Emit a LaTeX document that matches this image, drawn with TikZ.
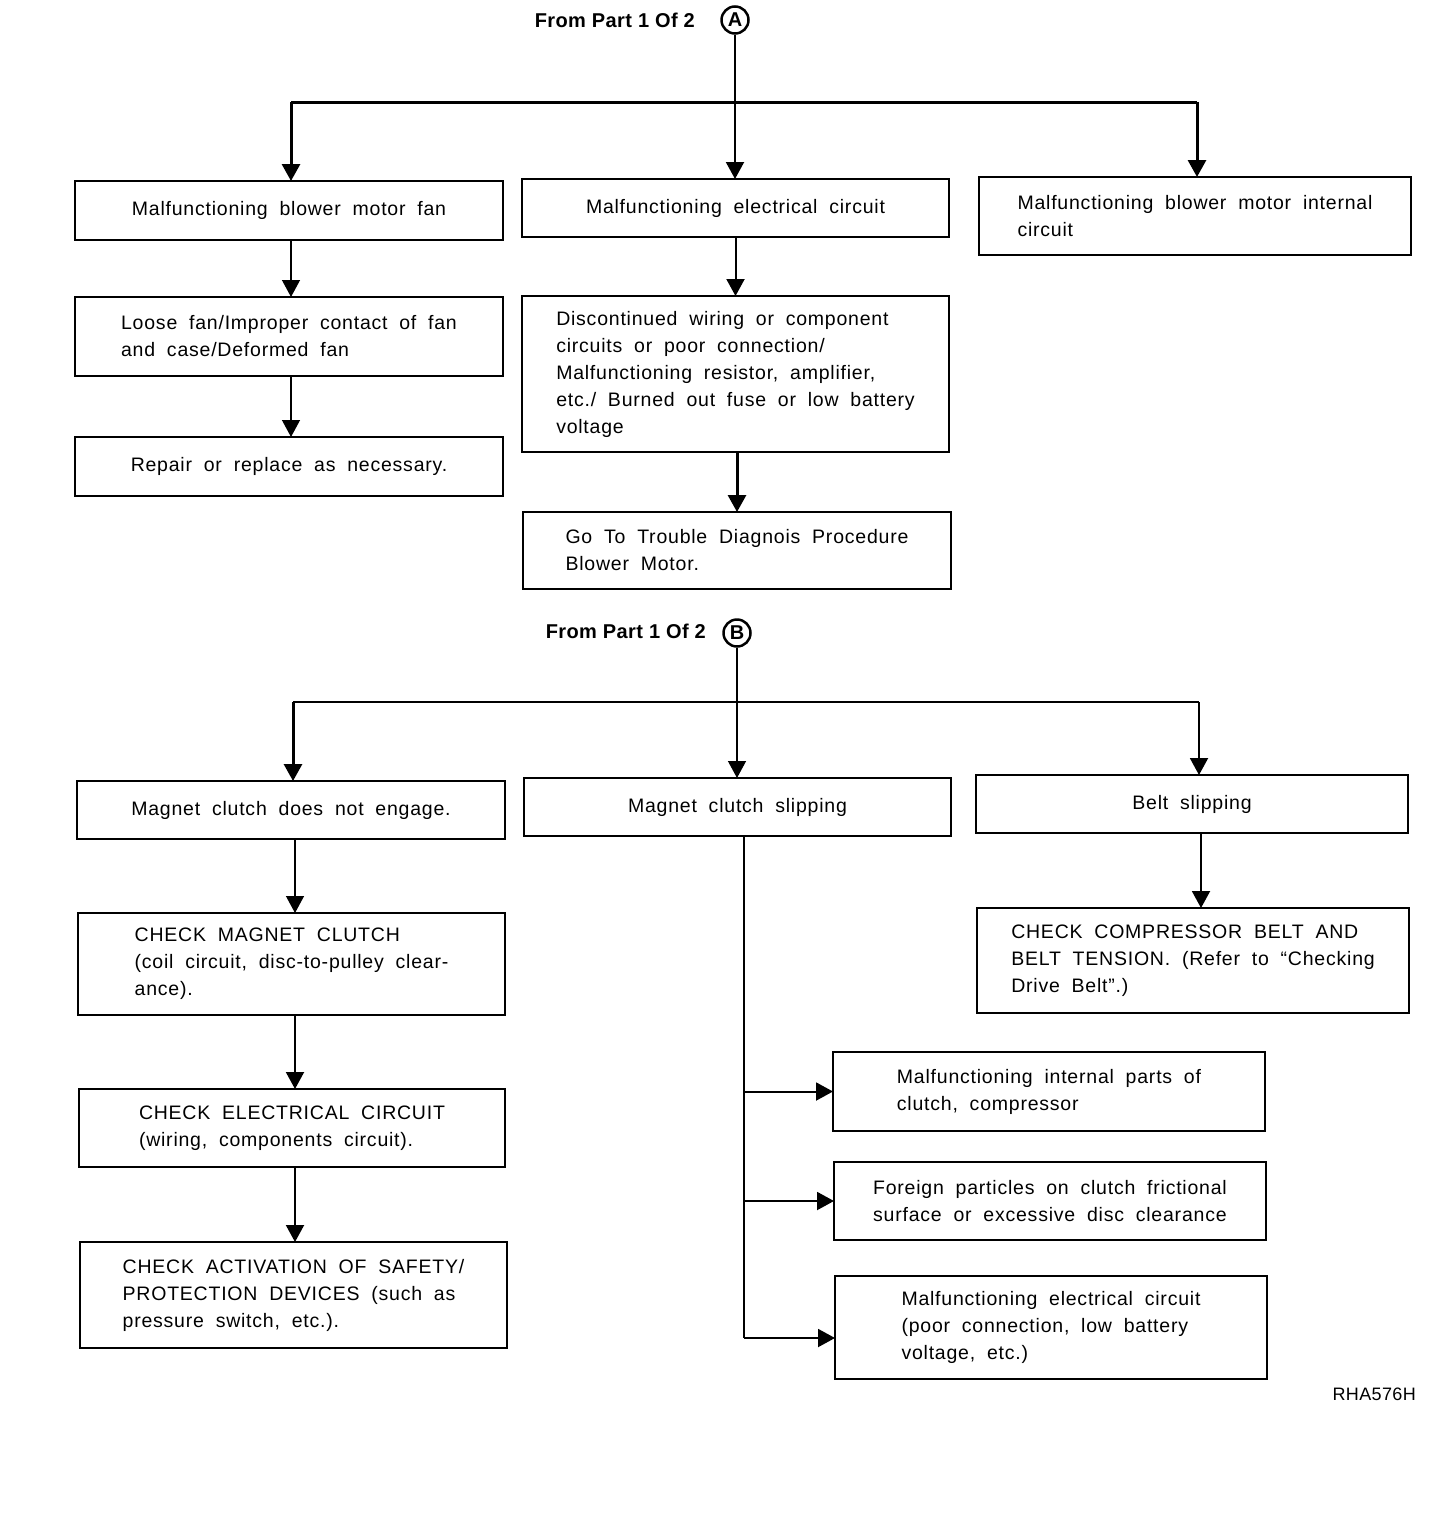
\documentclass[tikz,border=0pt]{standalone}
\usepackage{fontspec}
\setmainfont{Liberation Sans}
\newfontfamily\boxfont[LetterSpace=4,WordSpace=1.9]{Liberation Sans}
\newfontfamily\headfont[LetterSpace=2]{Liberation Sans}
\usetikzlibrary{arrows.meta}
\tikzset{
  box/.style={draw, line width=2pt, rectangle, align=left, inner sep=0pt, outer sep=0pt,
    font=\boxfont\fontsize{19.5}{27}\selectfont},
  arr/.style={-{Triangle[width=18pt,length=17pt]}},
  thinln/.style={line width=1.3pt},
  medln/.style={line width=2pt},
  thickln/.style={line width=3pt},
  hdr/.style={anchor=east, inner sep=0pt, font=\headfont\bfseries\fontsize{20}{20}\selectfont},
  mark circle/.style={circle, draw, line width=2.5pt, minimum size=27pt, inner sep=0pt,
    font=\headfont\bfseries\fontsize{20}{20}\selectfont},
}
\begin{document}
\begin{tikzpicture}[x=1pt,y=-1pt]
\useasboundingbox[fill=white] (0,0) rectangle (1440,1520);

% ---------- Part A ----------
\node[hdr] (hA) at (695,20) {From Part 1 Of 2};
\node[mark circle] (cA) at (735,20) {A};

\node[box, minimum width=428pt, minimum height=59pt] (b1) at (289,210.5) {Malfunctioning blower motor fan};
\node[box, minimum width=427pt, minimum height=58pt] (b2) at (735.5,208) {Malfunctioning electrical circuit};
\node[box, minimum width=432pt, minimum height=78pt] (b3) at (1195,216) {Malfunctioning blower motor internal\\circuit};
\node[box, minimum width=428pt, minimum height=79pt] (b4) at (289,336.5) {Loose fan/Improper contact of fan\\and case/Deformed fan};
\node[box, minimum width=428pt, minimum height=59pt] (b5) at (289,466.5) {Repair or replace as necessary.};
\node[box, minimum width=427pt, minimum height=156pt] (b6) at (735.5,374) {Discontinued wiring or component\\circuits or poor connection/\\Malfunctioning resistor, amplifier,\\etc./ Burned out fuse or low battery\\voltage};
\node[box, minimum width=428pt, minimum height=77pt] (b7) at (737,550.5) {Go To Trouble Diagnois Procedure\\Blower Motor.};

\coordinate (jAL) at (291,102);
\coordinate (jAR) at (1197,102);
\draw[medln, arr] (cA.south) -- (cA.south |- b2.north);
\draw[thickln] (jAL) -- (jAR);
\draw[thickln, arr] (jAL) -- (jAL |- b1.north);
\draw[thickln, arr] (jAR) -- (jAR |- b3.north);
\draw[thinln, arr] (jAL |- b1.south) -- (jAL |- b4.north);
\draw[thinln, arr] (jAL |- b4.south) -- (jAL |- b5.north);
\draw[medln, arr] (b2.south) -- (b2.south |- b6.north);
\draw[thickln, arr] ([xshift=1.5pt]b6.south) -- ([xshift=1.5pt]b6.south |- b7.north);

% ---------- Part B ----------
\node[hdr] (hB) at (706,631) {From Part 1 Of 2};
\node[mark circle] (cB) at (737,633) {B};

\node[box, minimum width=428pt, minimum height=58pt] (b8) at (291,810) {Magnet clutch does not engage.};
\node[box, minimum width=427pt, minimum height=58pt] (b9) at (737.5,807) {Magnet clutch slipping};
\node[box, minimum width=432pt, minimum height=58pt] (b10) at (1192,804) {Belt slipping};
\node[box, minimum width=427pt, minimum height=102pt] (b11) at (291.5,964) {CHECK MAGNET CLUTCH\\(coil circuit, disc-to-pulley clear-\\ance).};
\node[box, minimum width=426pt, minimum height=78pt] (b12) at (292,1128) {CHECK ELECTRICAL CIRCUIT\\(wiring, components circuit).};
\node[box, minimum width=427pt, minimum height=106pt] (b13) at (293.5,1295) {CHECK ACTIVATION OF SAFETY/\\PROTECTION DEVICES (such as\\pressure switch, etc.).};
\node[box, minimum width=432pt, minimum height=105pt] (b14) at (1193,960.5) {CHECK COMPRESSOR BELT AND\\BELT TENSION. (Refer to “Checking\\Drive Belt”.)};
\node[box, minimum width=432pt, minimum height=79pt] (b15) at (1049,1091.5) {Malfunctioning internal parts of\\clutch, compressor};
\node[box, minimum width=432pt, minimum height=78pt] (b16) at (1050,1201) {Foreign particles on clutch frictional\\surface or excessive disc clearance};
\node[box, minimum width=432pt, minimum height=103pt] (b17) at (1051,1327.5) {Malfunctioning electrical circuit\\(poor connection, low battery\\voltage, etc.)};

\coordinate (jBL) at (293,702);
\coordinate (jBR) at (1199,702);
\draw[thinln, arr] (cB.south) -- (cB.south |- b9.north);
\draw[medln] (jBL) -- (jBR);
\draw[thickln, arr] (jBL) -- (jBL |- b8.north);
\draw[medln, arr] (jBR) -- (jBR |- b10.north);
\draw[thinln, arr] ([xshift=4pt]b8.south) -- ([xshift=4pt]b8.south |- b11.north);
\draw[medln, arr] ([xshift=3.5pt]b11.south) -- ([xshift=3.5pt]b11.south |- b12.north);
\draw[medln, arr] ([xshift=3pt]b12.south) -- ([xshift=3pt]b12.south |- b13.north);
\draw[medln, arr] ([xshift=9pt]b10.south) -- ([xshift=9pt]b10.south |- b14.north);

\coordinate (tr) at (744,1338);
\draw[medln] (b9.south -| tr) -- (tr);
\draw[medln, arr] (tr |- b15.west) -- (b15.west);
\draw[medln, arr] (tr |- b16.west) -- (b16.west);
\draw[medln, arr] (tr) -- (tr -| b17.west);

\node[anchor=east, inner sep=0pt, font=\headfont\fontsize{18}{18}\selectfont] (code) at (1416,1394) {RHA576H};
\end{tikzpicture}
\end{document}
